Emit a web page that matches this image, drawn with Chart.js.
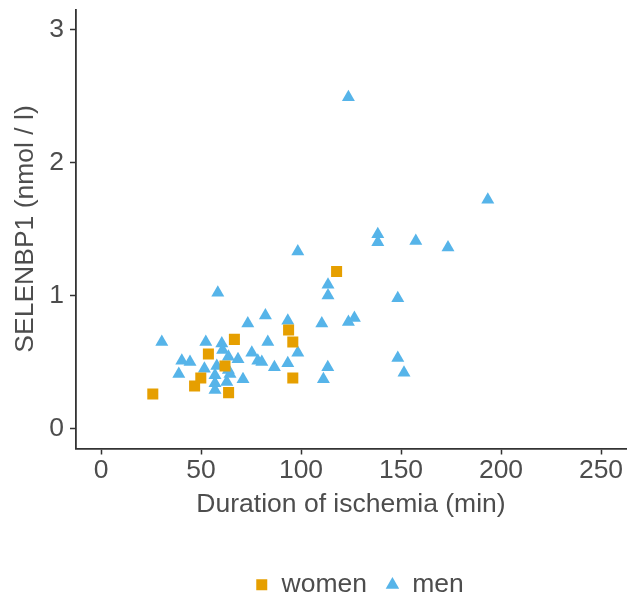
<!DOCTYPE html>
<html>
<head>
<meta charset="utf-8">
<script src="https://cdn.jsdelivr.net/npm/chart.js@4"></script>
<style>
  html, body { margin: 0; padding: 0; background: #ffffff; }
  #wrap { width: 627px; height: 597px; position: relative; }
</style>
</head>
<body>
<div id="wrap"><canvas id="c" width="627" height="597"></canvas></div>
<script>
// Duration of ischemia (min) and SELENBP1 (nmol / l)
const womenX = [25.9, 46.8, 49.9, 53.7, 66.7, 62.0, 63.8, 93.8, 95.9, 95.9, 117.8];
const womenY = [0.26, 0.32, 0.38, 0.56, 0.67, 0.47, 0.27, 0.74, 0.65, 0.38, 1.18];

const menX = [30.4, 38.9, 40.4, 44.5, 51.7, 52.4, 57.0, 57.0, 57.0, 57.9, 58.4, 60.4, 60.8, 62.9, 63.7, 63.7, 64.5, 68.5, 71.0, 73.4, 75.4, 78.4, 80.4, 82.2, 83.4, 86.7, 93.4, 93.4, 98.4, 98.4, 110.4, 111.2, 113.4, 113.5, 113.5, 123.7, 123.7, 126.7, 138.4, 138.4, 148.4, 148.4, 151.5, 157.4, 173.5, 193.4];
const menY = [0.65, 0.41, 0.51, 0.50, 0.45, 0.65, 0.40, 0.34, 0.29, 0.47, 1.02, 0.64, 0.59, 0.35, 0.54, 0.44, 0.41, 0.52, 0.37, 0.79, 0.57, 0.51, 0.50, 0.85, 0.65, 0.46, 0.81, 0.49, 1.33, 0.57, 0.79, 0.37, 0.46, 1.08, 1.00, 2.49, 0.80, 0.83, 1.46, 1.40, 0.98, 0.53, 0.42, 1.41, 1.36, 1.72];

const xTicks = [0, 50, 100, 150, 200, 250];
const yTicks = [0, 1, 2, 3];

const seriesNames = ['women', 'men'];
const xTitle = 'Duration of ischemia (min)';
const yTitle = 'SELENBP1 (nmol / l)';

const toPts = (xs, ys) => xs.map((x, i) => ({ x: x, y: ys[i] }));

const FONT = '"Liberation Sans", Arial, Helvetica, sans-serif';
const FS = 26.5;
const AXIS = '#333333';
const TXT = '#4d4d4d';

const legendShift = {
  id: 'legendShift',
  afterLayout(chart) {
    const lg = chart.legend;
    if (lg) { lg.left += 8.5; lg.right += 8.5; }
  }
};

new Chart(document.getElementById('c'), {
  type: 'scatter',
  data: {
    datasets: [
      {
        label: seriesNames[0],
        data: toPts(womenX, womenY),
        pointStyle: 'rect',
        pointRadius: 7.8,
        backgroundColor: '#E69F00',
        borderColor: '#E69F00',
        borderWidth: 0,
        pointBorderWidth: 0
      },
      {
        label: seriesNames[1],
        data: toPts(menX, menY),
        pointStyle: 'triangle',
        pointRadius: 7.5,
        backgroundColor: '#56B4E9',
        borderColor: '#56B4E9',
        borderWidth: 0,
        pointBorderWidth: 0
      }
    ]
  },
  plugins: [legendShift],
  options: {
    responsive: false,
    animation: false,
    events: [],
    layout: { autoPadding: false, padding: { left: 0, right: 1, top: 9.4, bottom: -11 } },
    plugins: {
      tooltip: { enabled: false },
      legend: {
        position: 'bottom',
        fullSize: false,
        labels: {
          usePointStyle: true,
          boxHeight: 11,
          boxWidth: 13,
          padding: 19,
          color: TXT,
          font: { family: FONT, size: FS }
        }
      }
    },
    scales: {
      x: {
        type: 'linear',
        min: -12.5,
        max: 262.5,
        afterBuildTicks: (s) => { s.ticks = xTicks.map(v => ({ value: v })); },
        afterFit: (s) => { s.height = 104; s.paddingLeft = 0; s.paddingRight = 0; },
        grid: { display: true, drawOnChartArea: false, drawTicks: true, tickLength: 6, tickColor: AXIS, tickWidth: 1.5 },
        border: { display: true, color: AXIS, width: 1.8 },
        ticks: { color: TXT, padding: 0, font: { family: FONT, size: FS }, maxRotation: 0 },
        title: { display: true, text: xTitle, color: TXT, padding: { top: 5, bottom: 32 }, font: { family: FONT, size: FS } }
      },
      y: {
        type: 'linear',
        min: -0.15,
        max: 3.15,
        afterBuildTicks: (s) => { s.ticks = yTicks.map(v => ({ value: v })); },
        afterFit: (s) => { s.width = 76; s.paddingTop = 0; s.paddingBottom = 0; },
        grid: { display: true, drawOnChartArea: false, drawTicks: true, tickLength: 6, tickColor: AXIS, tickWidth: 1.5 },
        border: { display: true, color: AXIS, width: 1.8 },
        ticks: { color: TXT, padding: 6, font: { family: FONT, size: FS } },
        title: { display: true, text: yTitle, color: TXT, padding: { top: 10, bottom: 6 }, font: { family: FONT, size: FS } }
      }
    }
  }
});
</script>
</body>
</html>
